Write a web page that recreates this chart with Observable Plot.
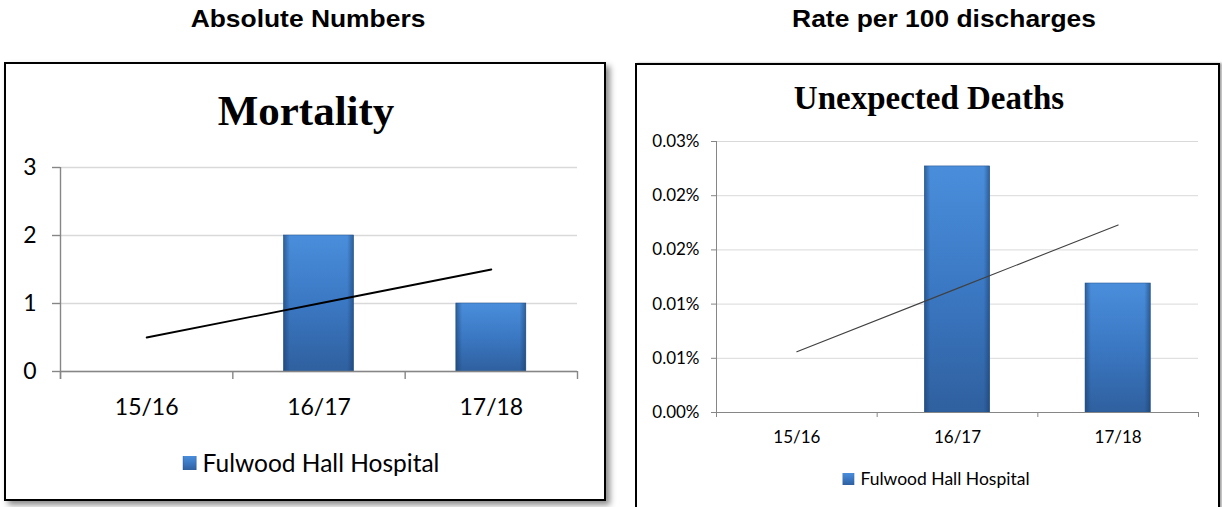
<!DOCTYPE html>
<html>
<head>
<meta charset="utf-8">
<script src="https://cdn.jsdelivr.net/npm/d3@7"></script>
<script src="https://cdn.jsdelivr.net/npm/@observablehq/plot@0.6"></script>
<style>
  body { margin: 0; background: #fff; width: 1222px; height: 507px; position: relative; overflow: hidden; font-family: Lato, sans-serif; }
  .hdr { position: absolute; top: 7px; font: bold 24px "Liberation Sans", Arial, sans-serif; transform: translateX(-50%) scaleX(1.1); white-space: nowrap; line-height: 1; }
  .box { position: absolute; border: 2px solid #000; background: #fff; }
  #boxL { left: 4px; top: 62px; width: 598px; height: 435px; box-shadow: 4px 4px 6px rgba(0,0,0,.45); }
  #boxR { left: 635px; top: 63px; width: 581px; height: 470px; box-shadow: 2px 0 2px rgba(0,0,0,.35); }
  .title { position: absolute; transform: translateX(-50%); font-family: "Liberation Serif", serif; font-weight: bold; white-space: nowrap; line-height: 1; }
  .chart { position: absolute; }
  .legend { position: absolute; display: flex; align-items: center; white-space: nowrap; transform: translateX(-50%); line-height: 1; }
  .legend svg { margin-right: 6px; }
</style>
</head>
<body>
<svg width="0" height="0" style="position:absolute">
  <defs>
    <linearGradient id="barFill" x1="0" y1="0" x2="0" y2="1">
      <stop offset="0" stop-color="#4a8edb"/>
      <stop offset="0.5" stop-color="#3b78c3"/>
      <stop offset="1" stop-color="#2f609f"/>
    </linearGradient>
    <linearGradient id="barEdge" x1="0" y1="0" x2="1" y2="0">
      <stop offset="0" stop-color="#173a66" stop-opacity="0.55"/>
      <stop offset="0.09" stop-color="#173a66" stop-opacity="0"/>
      <stop offset="0.91" stop-color="#173a66" stop-opacity="0"/>
      <stop offset="1" stop-color="#173a66" stop-opacity="0.55"/>
    </linearGradient>
  </defs>
</svg>

<div class="hdr" style="left:308px">Absolute Numbers</div>
<div class="hdr" style="left:944px">Rate per 100 discharges</div>

<div class="box" id="boxL"></div>
<div class="box" id="boxR"></div>

<div class="title" style="left:306px;top:89px;font-size:43px">Mortality</div>
<div class="title" style="left:929px;top:82px;font-size:33px">Unexpected Deaths</div>

<div class="chart" id="chartL" style="left:10px;top:150px"></div>
<div class="chart" id="chartR" style="left:640px;top:125px"></div>

<div class="legend" id="legL" style="left:311px;top:451px;font-size:24.5px"></div>
<div class="legend" id="legR" style="left:936px;top:470px;font-size:17.5px"></div>

<script>
// Financial years shown on both charts
const seasons = ["15/16", "16/17", "17/18"];
const seriesName = "Fulwood Hall Hospital";

// Mortality: absolute numbers and linear trend
const mortality = [0, 2, 1];
const mortalityTrend = [0.5, 1.0, 1.5];
const mortalityTicks = [0, 1, 2, 3];
const mortalityTickLabels = ["0", "1", "2", "3"];

// Unexpected deaths: rate per 100 discharges (in %) and linear trend
const rate = [0, 0.0227, 0.0119];
const rateTrend = [0.0056, 0.01145, 0.0173];
const rateTicks = [0, 0.005, 0.01, 0.015, 0.02, 0.025];
const rateTickLabels = ["0.00%", "0.01%", "0.01%", "0.02%", "0.02%", "0.03%"];

function columnChart(o) {
  const rows = seasons.map((s, i) => ({season: s, pos: i + 0.5, value: o.values[i], trend: o.trend[i]}));
  const half = 0.203;
  const axisColor = "#868686";
  const bar = {x1: d => d.pos - half, x2: d => d.pos + half, y: "value"};
  return Plot.plot({
    width: o.width,
    height: o.height,
    marginLeft: o.ml, marginRight: o.mr, marginTop: o.mt, marginBottom: o.mb,
    x: {domain: [0, seasons.length], axis: null},
    y: {domain: [0, o.ticks[o.ticks.length - 1]], axis: null},
    style: {fontFamily: "Lato, sans-serif", fontSize: o.fontSize + "px", color: "#000", background: "transparent", overflow: "visible"},
    marks: [
      Plot.gridY(o.ticks, {stroke: "#d9d9d9", strokeOpacity: 1, strokeWidth: o.gridWidth}),
      Plot.rectY(rows, {...bar, fill: "url(#barFill)", stroke: "#2b5a96", strokeWidth: 0.6}),
      Plot.rectY(rows, {...bar, fill: "url(#barEdge)"}),
      Plot.ruleX([0], {stroke: axisColor, strokeWidth: o.axisWidth, insetBottom: -o.tickSize}),
      Plot.ruleY([0], {stroke: axisColor, strokeWidth: o.axisWidth}),
      Plot.axisY(o.ticks, {
        label: null, tickSize: o.tickSize, tickPadding: o.tickPadding, stroke: axisColor, strokeWidth: o.axisWidth, fill: "#000",
        fontSize: o.fontSize, tickFormat: d => o.tickLabels[o.ticks.indexOf(d)]
      }),
      Plot.axisX(d3.range(seasons.length + 1), {label: null, tickSize: o.tickSize, tickFormat: () => "", stroke: axisColor, strokeWidth: o.axisWidth}),
      Plot.text(rows, {x: "pos", text: "season", frameAnchor: "bottom", dy: o.labelOffset, lineAnchor: "middle", fontSize: o.fontSize, fill: "#000"}),
      Plot.line(rows, {x: "pos", y: "trend", stroke: o.trendColor, strokeWidth: o.trendWidth})
    ]
  });
}

document.getElementById("chartL").append(columnChart({
  values: mortality, trend: mortalityTrend, ticks: mortalityTicks, tickLabels: mortalityTickLabels,
  width: 590, height: 270, ml: 50, mr: 23, mt: 17, mb: 49,
  fontSize: 23, tickSize: 8, tickPadding: 16, labelOffset: 36,
  gridWidth: 1.4, axisWidth: 1.4, trendColor: "#000", trendWidth: 1.8
}));

document.getElementById("chartR").append(columnChart({
  values: rate, trend: rateTrend, ticks: rateTicks, tickLabels: rateTickLabels,
  width: 575, height: 330, ml: 76, mr: 17, mt: 16, mb: 43,
  fontSize: 17, tickSize: 5, tickPadding: 12, labelOffset: 25,
  gridWidth: 1, axisWidth: 1, trendColor: "#404040", trendWidth: 1.1
}));

// Legend swatches
function legend(id, size) {
  const el = d3.select("#" + id);
  const svg = el.append("svg").attr("width", size).attr("height", size);
  svg.append("rect").attr("width", size).attr("height", size).attr("fill", "url(#barFill)");
  svg.append("rect").attr("width", size).attr("height", size).attr("fill", "url(#barEdge)");
  el.append("span").text(seriesName);
}
legend("legL", 14);
legend("legR", 12);
</script>
</body>
</html>
